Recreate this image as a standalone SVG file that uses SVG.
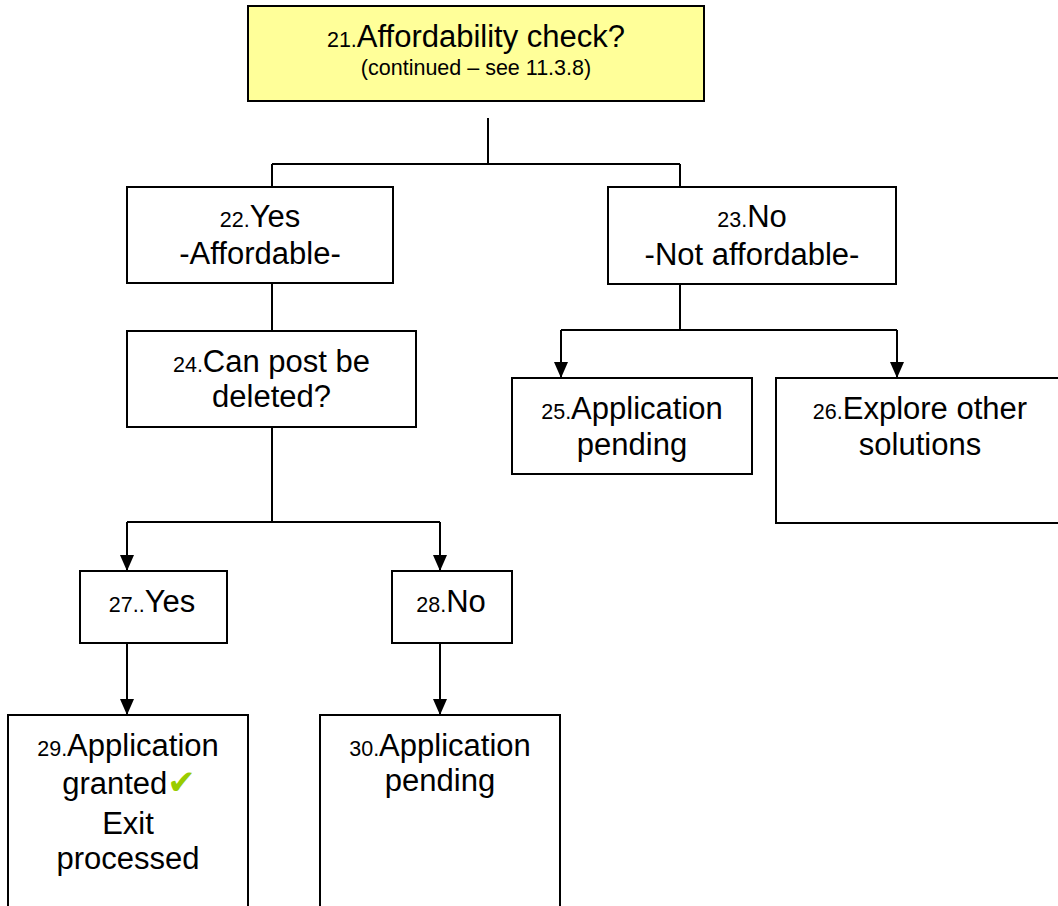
<svg xmlns="http://www.w3.org/2000/svg" width="1058" height="906" viewBox="0 0 1058 906">
<style>
.box{fill:#fff;stroke:#000;stroke-width:2}
.top{fill:#FFFF99;stroke:#000;stroke-width:2}
.ln{fill:none;stroke:#000;stroke-width:2}
text{font-family:"Liberation Sans",Arial,sans-serif;font-size:31px;fill:#000;text-anchor:middle}
.n{font-size:21.5px}
.s{font-size:21.5px}
.ck{font-family:"DejaVu Sans",sans-serif;fill:#99CC00;font-size:34px}
</style>
<defs>
<marker id="ah" markerUnits="userSpaceOnUse" markerWidth="16" markerHeight="14" refX="16" refY="7" orient="auto">
<path d="M0,0 L16,7 L0,14 z" fill="#000"/>
</marker>
</defs>
<rect width="1058" height="906" fill="#fff"/>
<g id="connectors">
<path class="ln" d="M488,118 V164 M272,164 H680 M272,164 V187 M680,164 V187"/>
<path class="ln" d="M272,283 V331"/>
<path class="ln" d="M680,284 V330 M561,330 H897"/>
<path class="ln" d="M561,330 V378" marker-end="url(#ah)"/>
<path class="ln" d="M897,330 V378" marker-end="url(#ah)"/>
<path class="ln" d="M272,427 V522 M127,522 H440"/>
<path class="ln" d="M127,522 V571" marker-end="url(#ah)"/>
<path class="ln" d="M440,522 V571" marker-end="url(#ah)"/>
<path class="ln" d="M127,643 V715" marker-end="url(#ah)"/>
<path class="ln" d="M440,643 V715" marker-end="url(#ah)"/>
</g>
<g id="n21"><rect class="top" x="248" y="6" width="456" height="95"/>
<text x="476" y="47"><tspan class="n">21.</tspan>Affordability check?</text>
<text class="s" x="476" y="75">(continued – see 11.3.8)</text></g>
<g id="n22"><rect class="box" x="127" y="187" width="266" height="96"/>
<text x="260" y="227"><tspan class="n">22.</tspan>Yes</text>
<text x="260" y="264">-Affordable-</text></g>
<g id="n23"><rect class="box" x="608" y="187" width="288" height="97"/>
<text x="752" y="227"><tspan class="n">23.</tspan>No</text>
<text x="752" y="265">-Not affordable-</text></g>
<g id="n24"><rect class="box" x="127" y="331" width="289" height="96"/>
<text x="271.5" y="372"><tspan class="n">24.</tspan>Can post be</text>
<text x="271.5" y="407">deleted?</text></g>
<g id="n25"><rect class="box" x="512" y="378" width="240" height="96"/>
<text x="632" y="419"><tspan class="n">25.</tspan>Application</text>
<text x="632" y="455">pending</text></g>
<g id="n26"><rect class="box" x="776" y="378" width="290" height="145"/>
<text x="920" y="419"><tspan class="n">26.</tspan>Explore other</text>
<text x="920" y="455">solutions</text></g>
<g id="n27"><rect class="box" x="80" y="571" width="147" height="72"/>
<text x="152" y="612"><tspan class="n">27..</tspan>Yes</text></g>
<g id="n28"><rect class="box" x="392" y="571" width="120" height="72"/>
<text x="451" y="612"><tspan class="n">28.</tspan>No</text></g>
<g id="n29"><rect class="box" x="8" y="715" width="240" height="210"/>
<text x="128" y="756"><tspan class="n">29.</tspan>Application</text>
<text x="129" y="794">granted<tspan class="ck">✔</tspan></text>
<text x="128" y="834">Exit</text>
<text x="128" y="869">processed</text></g>
<g id="n30"><rect class="box" x="320" y="715" width="240" height="210"/>
<text x="440" y="756"><tspan class="n">30.</tspan>Application</text>
<text x="440" y="791">pending</text></g>
</svg>
